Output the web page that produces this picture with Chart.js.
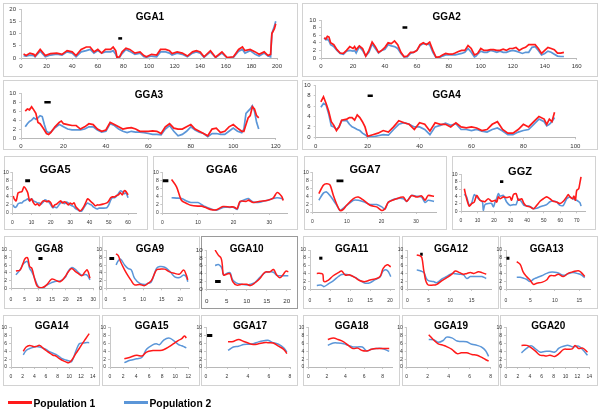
<!DOCTYPE html>
<html><head><meta charset="utf-8">
<script src="https://cdn.jsdelivr.net/npm/chart.js@4.4.1/dist/chart.umd.min.js"></script>
<style>
body{margin:0;width:600px;height:412px;background:#fff;position:relative;overflow:hidden;font-family:"Liberation Sans",Arial,sans-serif}
.box{position:absolute;border:1px solid #d2d2d2;box-sizing:border-box;background:#fff}
canvas{position:absolute}
.title{position:absolute;font-weight:bold;transform:translate(-50%,-50%);white-space:nowrap;color:#000}
.leg{position:absolute;font-weight:bold;font-size:10.3px;color:#000;transform:translateY(-50%);white-space:nowrap}
.legline{position:absolute;height:3px}
</style></head><body>
<script>
// ---------------- DATA ----------------
const gga1X=[2,4,7,10,11,15,19,23,28,32,36,40,43,47,51,54,57,60,63,66,70,72,74,75,77,79,82,85,89,93,96,98,102,106,109,113,116,118,122,126,130,134,137,140,143,148,152,157,161,166,170,173,175,179,183,186,190,193,195,196,198,199];
const gga1Pop1=[1.7,1,2,1.5,0.8,3.5,1,1.8,2,1.5,3,2.5,1,3.5,4.5,4.5,2.5,3.5,2,3.5,3.5,4.5,3,0.3,0.5,2.5,4,3.5,2,2.5,1,0.5,1.5,1.2,3.5,3.5,3,1.8,2.5,2,0.8,2.5,3,2.5,0.5,3,0.3,2.5,0.2,0.5,3.5,4.5,3,3.5,2.5,1.5,2.5,1,1.5,10,12,14];
const gga1Pop2=[1,0.8,1.2,1,0.5,2.8,0.5,1.2,1.6,1.2,2.5,2,0.5,2.5,3,3.5,2,3,2,2.5,2.5,3,1.5,0.2,0.3,1.8,3.5,2.7,1.5,2,0.5,0.3,0.8,0.5,2.5,2.5,2,1.2,2,1.5,0.5,2,2.5,2,0.3,2.5,0.2,2,0.1,0.3,2.8,3.5,2,3,1.5,0.8,2,0.8,0.5,10,13,15];

const gga2X=[2,3,4,5,6,8,10,12,14,16,18,20,21,22,24,26,28,30,32,34,36,38,40,42,44,46,48,50,52,54,56,58,60,62,64,66,68,70,72,74,76,78,80,82,84,86,88,90,92,94,96,97,98,100,102,104,106,108,110,112,114,116,118,120,122,124,126,128,130,132,134,136,138,140,142,144,146,148,150,152];
const gga2Pop1=[5.3,5,5.7,5.5,4,3.5,2.2,1.3,1.2,2,3,2.5,3,2.2,3.2,2.5,0.5,2,4.2,3,1.5,2,2.8,4,3.8,4.5,3.5,1.5,0.3,0.5,1.5,1.5,2,3.5,4,3.5,4.2,2,0.2,0.3,0.8,1.2,1,1,1.3,1.7,2,2,3.3,2.5,0.8,1,1.2,2.5,2,2,2.2,2.2,2,2,2.3,2,2.5,2.5,2.8,2,2.5,2.8,3.5,3.5,3.5,2.5,1.2,2,2.8,2.5,2.2,1.3,1.3,1.5];
const gga2Pop2=[5.3,4.8,5,4.5,3.5,3,2,1.2,1,1.8,2,1.8,2,1.3,3,2,0.5,1.5,3.7,2.5,1.3,2,2.3,3.5,3.2,3,2.5,1.2,0.3,0.3,1.2,1.5,2,3.3,3.8,3.7,3.5,1.5,0.1,0.1,0.5,0.8,0.8,0.8,0.8,1,1.2,1.5,2.5,1.5,0.3,0.5,1,1.8,1.5,1.5,2,1.8,1.5,1.8,1.5,1.5,1.8,2,1.8,1.5,1.2,1.5,1.5,2.8,3,2,0.8,1.2,1.8,1.5,1,0.5,0.4,0.4];

const gga3X=[2,3,4,5,6,7,8,9,10,11,12,13,14,16,18,19,20,22,24,26,28,30,32,34,36,38,40,42,44,46,48,50,52,54,56,58,60,62,64,66,68,70,72,74,76,78,80,82,84,86,88,90,92,94,96,98,100,102,104,105,106,107,108,109,110,111,112];
const gga3Pop1=[6,6.5,6.3,7,6.3,5.5,3.5,3.2,2.5,1.8,1,0.8,1.2,2.5,3.5,3.8,3.2,3,2.8,2.8,2,2.5,3.2,3,2,1.5,1.8,3.5,3,2.5,2,2.2,2.3,2,1.5,1.5,1.5,1.6,1.5,1,2.5,3.2,2.2,2,2,2.5,3,2,1.5,1,0.5,2,2.2,1.2,1.5,2.5,3,2.2,1.5,1.5,3,4.5,5,7,6.5,5,4.5];
const gga3Pop2=[2.5,3.2,3.7,4,4.5,4.2,4.5,5,4.8,3,1.5,1.2,1.3,2.3,3,2.8,2.5,2,1.8,1.8,1.8,2,2.5,2.5,1.8,1.3,1.5,3.2,2.8,2,1.5,1.2,1.5,1.3,1.3,1.2,1,0.8,0.8,0.7,2,2.8,1.5,0.5,0.8,1.5,2.5,1.8,1.3,1,0.3,1,1,0.8,0.8,1.5,2.2,1.5,1.2,2,5.5,6,6.5,7.2,6,3.5,2];

const gga4X=[2,3,4,5,6,7,8,9,10,12,13,14,15,16,17,18,19,20,22,24,26,28,30,32,34,36,38,40,42,44,46,48,50,52,54,56,58,60,62,64,66,68,70,72,74,76,78,80,82,84,86,88,89,90,91,92];
const gga4Pop1=[6.8,7.8,6.5,5,3,2.3,1.3,2,3.3,3.5,3.8,3.8,3.3,4.3,3.8,3,2,0.2,0.5,0.8,1.3,1,2,3.2,2.8,2.5,1.5,2.8,2.5,1.2,2.8,2.5,2.5,2,2.8,2,1.8,2,1.8,1.3,1.5,2.5,3,1.5,0.8,0.8,1.5,2.5,2,3,4,3.5,2.5,3.5,3,4.8];
const gga4Pop2=[5.8,6.5,6.2,4.5,2.2,2,1.5,2,3.2,3.2,2.5,2,1.8,1.5,1.3,0.8,0.5,0.1,0.1,0.3,0.5,0.4,1.5,2.5,2.8,2.5,2,2,1.5,0.5,2,2.3,2.7,2.3,2.6,1.5,1.5,1.3,1.5,1.2,1,1.5,1.8,1.2,0.5,0.5,1,1.3,1.5,2.5,3.5,3,2.2,2.5,3,3.8];

const gga5X=[0.5,1,2,3,4,5,6,7,8,9,10,11,12,13,14,15,16,17,18,19,20,21,22,23,25,26,27,28,29,30,31,32,33,34,35,36,37,38,39,40,41,42,43,44,45,47,49,50,51,52,53,54,55,56,57,58,59,60];
const gga5Pop1=[4.2,3.5,3,5,5.2,5.3,6.5,6,5,3,3.5,2.5,2,2.3,1.8,2.5,3,3,2.8,3,2.5,1.5,2,2.2,3,2.5,2.8,2.5,2,2.5,2.2,2.5,1.5,1,0.5,0.8,1.5,2.5,3.5,3.2,2.7,2.3,1.8,2,2,2.2,2.5,3,3.8,4,4,4.3,4.5,5,4.5,5.5,5.3,4.5];
const gga5Pop2=[2,1.5,1.5,2.3,2.5,2.5,3,3.2,3.5,3,3.5,3,2.8,2.5,2.5,2.2,2.7,3.3,3,2.7,2,1.3,1.5,1.3,2.5,2.7,2.3,2.7,2.5,2,1.8,1.5,1,0.8,0.5,0.5,1.2,2,2.5,2.2,2,1.5,1.2,1,1.2,1.2,1.3,2,3.2,3.8,3.8,4.2,4.8,5.5,5.3,4.8,5,3.8];

const gga6X=[2.6,4,5.4,7,8,10,11,12,13.4,15.2,17,19,20,21,21.8,23.6,24.1,25.5,27.4,29.3,31.1,32.2,33.5,33.9];
const gga6Pop1=[8.3,6.5,3.1,2.3,1.9,1.7,1.7,1.4,0.9,0.8,1.6,1.5,1.5,1.1,2.9,2.9,3.2,2.6,2.9,3.1,3.7,5.1,4.1,3.1];
const gga6Pop2=[3.8,3.7,3.6,2.9,2.6,2.6,2.1,1.6,1.1,0.7,1.4,1.4,1.4,0.9,2.7,3.5,3.6,2.7,2.7,3.1,3.6,3.8,3.6,3.3];

const gga7X=[1.9,3.2,4.1,5.1,6.1,7,8,9,9.9,11.9,13.3,14.8,16.7,18.6,20.1,21,22,24.4,26.3,27.3,28.7,30.2,31.6,32.6,33.5,35.2];
const gga7Pop1=[4.7,6.8,7.2,6.9,4.2,2.1,0.4,0.7,1.7,3.4,3.8,3,1.7,1.3,0.4,0.8,2.5,3.4,3.8,2.7,4.2,3.8,4.1,3,4.2,4];
const gga7Pop2=[3,4.8,5.1,4.2,3,1.8,0.4,1,1.6,3,3,2.6,1.9,1.9,1.3,0.7,2.5,3.4,3.4,2.7,4.2,4,3.8,2.4,3,2.7];

const ggzX=[2,3.4,5,6.5,8,9.5,11.5,13,13.5,14.5,16.5,18.5,19.6,20.6,21.6,22.6,23.6,25.6,27.6,29.6,30.6,31.7,33.3,34.7,36.7,38.1,39.7,41.7,43.8,45.8,47.8,49.8,51.8,53.8,55.8,57.9,59.9,61.9,63.9,64.9,65.9,67.5,68.3,69.2,70,71.2,72,72.6];
const ggzPop1=[6.1,3.4,1.4,2.1,2.5,4.3,3,2.7,2.7,2.6,3.4,2.7,2.8,3,2.5,3.9,3.4,3.9,3.7,3.9,3,4.5,4.8,3,3.4,2.1,1.4,1.2,0.7,1.6,2.7,3.4,3.9,3.4,2.7,2.5,2.1,2.7,3.9,4.5,3.9,3.4,4.1,3,5.7,6.1,7.9,9.3];
const ggzPop2=[4.6,3.9,1.6,2.3,4.5,3.9,3,2.5,0.3,1.8,2.1,2.1,1.2,2.5,3.5,4.8,4.1,4.3,2.5,1.6,1.7,1.8,1.8,3.4,2.5,1.6,1.5,1.3,0.7,0.8,1.2,1.5,1.8,2.6,2.8,2.5,1.6,1.6,3.4,3.7,3.9,3.4,3.3,3.1,3,2.6,2.3,1.4];

const gga8X=[1.8,3.3,4.4,5.1,6,6.8,7.6,8.7,9.6,10.5,11.5,13,14.8,16,17.9,19.7,20.9,22.1,23.3,24.5,25.8,27,27.8,28.8];
const gga8Pop1=[4.5,4.8,6.5,7.7,8,5.7,5.2,2.2,0.5,0.2,0.2,0.9,2.4,2.2,1.7,3,4.3,5.2,4.5,3.9,3.3,4.3,4.8,2.6];
const gga8Pop2=[3.5,4.8,6.3,6.8,7,5.2,4.3,2.5,0.9,0,0,0.8,1.5,1.8,1.9,2.8,4.5,5.4,5,4.2,3.4,3.6,3.4,2.2];

const gga9X=[2.7,3.3,3.9,5,5.9,6.8,7.7,9.1,10.4,11.3,12.2,13.6,14.5,15.8,17.1,18.5,19.8,20.9,21.6,22];
const gga9Pop1=[9,8.5,7,4.8,3.3,2,0.9,1,0.7,1.3,2,4.8,5,5,4.3,3.9,3.7,4.8,3.5,2.2];
const gga9Pop2=[6.1,7.2,7.6,6.1,5.2,4.8,2.6,1.3,1,1.3,1.7,5.2,5.7,5.5,4.5,3,2.8,3.5,3,1.7];

const gga10X=[2.1,2.9,3.6,3.9,4.2,5,5.8,6.5,7.5,8.8,10,11,12.1,13.3,14.6,15.8,16.7,17.5,18.3,19.2,19.8,20.4];
const gga10Pop1=[10,8.7,7.9,6.2,3.6,3.8,3.9,1.9,1,1.2,1.2,0.9,1.6,2.7,4.3,4.4,5,3.6,2.9,3.8,4.6,4.4];
const gga10Pop2=[6,6.3,5.7,5,3.6,4,4.2,2.3,1.5,1.2,1,1.2,1.7,3,4.2,4.4,4.3,3.5,3.4,3.4,3.4,3.4];

const gga11X=[1.7,2.7,3.2,3.5,4.6,5.8,7.1,7.9,8.8,10,11.3,12.5,13.8,15,16.3,17.5,18.3,19.3,20.2];
const gga11Pop1=[4,4,3.8,1.9,2.3,3.4,4.2,4.6,3.6,3.6,2.9,2.1,1.9,2.3,2.6,3.2,5.3,6.2,5.7];
const gga11Pop2=[0.9,1,0.8,0.6,1.3,2.1,3.2,3.7,3.8,3.5,3,2.2,1.5,1.6,2.4,3.1,4.6,4.8,3.2];

const gga12X=[2.2,3,3.4,3.9,4.7,6.1,6.9,8,9.2,10.4,11.2,12.2,13.1,13.9,14.7,15.5,16.6,17.4,18.4];
const gga12Pop1=[8.7,8.5,8,4.4,1.2,1,1.2,2.1,2.9,3.8,4.6,4.2,3.8,4,4.2,4,4.4,4.2,3.8];
const gga12Pop2=[4.9,4.7,4.5,4.2,2.3,1.9,1.6,2.5,3.2,4,3.9,3.8,3.6,2.7,3.2,3.2,3.2,3.2,2.7];

const gga13X=[2.2,2.9,3.5,4.2,4.9,5.6,6.3,7.3,8.3,9,10,10.7,11.7,12.7,13.7,14.8,15.4,16.1];
const gga13Pop1=[7,6.3,4.4,3.2,2.3,1.2,1.5,1.7,2.3,3.4,3.4,3.8,3.2,4,4.4,4.7,4.2,3.2];
const gga13Pop2=[3,3,2.8,2.5,1.9,2.5,2.9,3.4,4,4.3,4.3,4.1,3.5,3.9,4.2,3.9,3.6,2.9];

const gga14X=[2.1,2.6,3.2,3.8,4.3,4.9,5.5,6,6.6,7.2,7.7,8.3,8.8,9.4,9.9,10.4,11.1,11.7,12.2,12.8,13.4];
const gga14Pop1=[4,5.1,5.5,5.2,5.2,5.5,4.8,4.2,3.6,3,2.8,2.1,1.7,1.3,1.1,1.7,3.4,4.7,5.9,7.2,8.5];
const gga14Pop2=[3.1,4.2,4.7,5,5.2,5.1,4.8,4.5,3.9,3.5,3.2,2.6,2.1,1.8,1.6,1.4,4,5.9,6.1,6.2,6.2];

const gga15X=[2.2,3.1,4.1,4.9,5.6,6.6,7.1,7.6,8.2,9,9.7,10.5,11,11.4,11.7];
const gga15Pop1=[2.1,2.5,3,2.8,3.8,4.2,4.2,4.2,4.4,5.1,5.9,6.8,7.2,7.9,7.4];
const gga15Pop2=[1.1,1.7,2.1,2.5,4.5,5.7,5.9,5.7,6.8,7.4,6.8,5.7,5.4,5.1,4.9];

const gga17X=[2.1,2.6,3.1,3.6,4,4.5,5,5.5,5.9,6.4,6.9,7.4,7.7];
const gga17Pop1=[6.4,6.5,7,6.5,6.1,5.7,5.9,6.2,6.2,6.1,5.3,4.5,3.4];
const gga17Pop2=[4.2,5.1,5.3,5.7,5.8,5.9,6.4,6.7,6.8,6.2,5.8,4.9,3.8];

const gga18X=[2.1,2.7,3.2,3.8,4.3,4.8,5.3,5.8,6.3,6.8,7.3,7.9,8.7];
const gga18Pop1=[7,7.4,7,6.4,5.5,4.7,4.8,4.2,4.1,4.5,4.7,4.7,4.7];
const gga18Pop2=[5.5,6.1,6.1,5.9,5.5,5.1,5.1,5.1,4.1,4.5,4.7,4.7,4];

const gga19X=[2.1,2.6,3,3.5,3.8,4.3,4.8,5.2,5.7,6.2,6.7,7.1,7.5,7.8];
const gga19Pop1=[8.2,6.8,5.9,5.5,5.2,4.5,3.4,3.6,3.6,3.2,3,2.5,1.9,1.5];
const gga19Pop2=[7,6.9,6.3,6.8,7.6,7.4,6.6,6.5,6.4,5.8,5.5,5.1,4.2,2.7];

const gga20X=[2.6,3.5,4.2,4.9,5.7,6.3,6.8,7.4,8.2,8.9,9.7,10.5,11.2,11.6,12.2,12.9,13.7];
const gga20Pop1=[5.5,5.5,4.9,4.1,3,2.9,2.8,3,2.7,3.4,4.5,4.5,4.7,5.5,4.7,4.8,3.8];
const gga20Pop2=[3.6,4.8,5.4,4.7,3.8,3.9,4,4,3.8,4.8,5.3,5.5,5.1,5.2,5.3,4.4,3];

// marker bars: [start, end, level]
const gga1Marker=[76,79,8], gga2Marker=[51,54,8], gga3Marker=[11,14,8], gga4Marker=[20,22,8];
const gga5Marker=[6.7,9.2,8], gga6Marker=[0.1,1.7,8], gga7Marker=[7,9,7.9], ggzMarker=[23.6,25.6,8];
const gga8Marker=[10,11.5,7.8], gga9Marker=[0.9,2.2,7.8], gga10Marker=[2.1,3.5,1.9];
const gga11Marker=[2.3,3.1,7.9], gga12Marker=[3,3.6,8.9], gga13Marker=[0.1,0.7,7.9], gga17Marker=[0.1,0.6,8];

const seriesNames=['Population 1','Population 2'];

// ---------------- LAYOUT ----------------
const styles={
  big:{font:6,yPad:3,xPad:3.1,lw:1.7,tension:0,mw:2.5},
  mid:{font:5,yPad:1.5,xPad:4.7,lw:1.6,tension:0.25,mw:2.8},
  r4:{font:5,yPad:2,xPad:6.7,lw:1.5,tension:0.4,mw:3},
  r5:{font:5,yPad:2,xPad:5,lw:1.5,tension:0.4,mw:3}
};
const panels=[
 {t:'GGA1',x:gga1X,a:gga1Pop1,b:gga1Pop2,m:gga1Marker,box:[3,3,298,77],plot:[21,9,277,58],xMax:200,xStep:20,yMax:20,yStep:5,tp:[150,16],ts:10,s:'big'},
 {t:'GGA2',x:gga2X,a:gga2Pop1,b:gga2Pop2,m:gga2Marker,box:[302,3,598,77],plot:[321,20,576.7,58],xMax:160,xStep:20,yMax:10,yStep:2,tp:[446.7,15.7],ts:10,s:'big'},
 {t:'GGA3',x:gga3X,a:gga3Pop1,b:gga3Pop2,m:gga3Marker,box:[3,80,298,150],plot:[21,93.3,275.7,138],xMax:120,xStep:20,yMax:10,yStep:2,tp:[149,93.7],ts:10,s:'big'},
 {t:'GGA4',x:gga4X,a:gga4Pop1,b:gga4Pop2,m:gga4Marker,box:[302,80,598,150],plot:[315.7,85.3,575.3,137.3],xMax:100,xStep:20,yMax:10,yStep:2,tp:[446.7,93.7],ts:10,s:'big'},
 {t:'GGA5',x:gga5X,a:gga5Pop1,b:gga5Pop2,m:gga5Marker,box:[4,156,148,229.5],plot:[12.3,172.7,136.7,213],xMax:64.5,xStep:10,yMax:10,yStep:2,tp:[55,169.3],ts:11,s:'mid'},
 {t:'GGA6',x:gga6X,a:gga6Pop1,b:gga6Pop2,m:gga6Marker,box:[153,156,297.5,229.5],plot:[162.3,172.7,287.1,213],xMax:35,xStep:10,yMax:10,yStep:2,tp:[221.7,169.3],ts:11,s:'mid'},
 {t:'GGA7',x:gga7X,a:gga7Pop1,b:gga7Pop2,m:gga7Marker,box:[304,156,447,229.5],plot:[312.3,172.7,436.8,212],xMax:36,xStep:10,yMax:10,yStep:2,tp:[365,169.3],ts:11,s:'mid'},
 {t:'GGZ',x:ggzX,a:ggzPop1,b:ggzPop2,m:ggzMarker,box:[452,156,596,229.5],plot:[461,174.3,585,211.3],xMax:75,xStep:10,yMax:10,yStep:2,tp:[520,171],ts:11,s:'mid'},
 {t:'GGA8',x:gga8X,a:gga8Pop1,b:gga8Pop2,m:gga8Marker,box:[4,236,99.5,309],plot:[11,250,93.3,288.3],xMax:30,xStep:5,yMax:10,yStep:2,tp:[49,248.3],ts:10,s:'r4'},
 {t:'GGA9',x:gga9X,a:gga9Pop1,b:gga9Pop2,m:gga9Marker,box:[102,236,199.5,309],plot:[106,250,189.6,288.3],xMax:22.5,xStep:5,yMax:10,yStep:2,tp:[150,248.3],ts:10,s:'r4'},
 {t:'GGA10',x:gga10X,a:gga10Pop1,b:gga10Pop2,m:gga10Marker,box:[201,236,298,309],plot:[206.7,250,290.7,289],xMax:21,xStep:5,yMax:10,yStep:2,tp:[246.7,248.3],ts:10,s:'r4',dark:true},
 {t:'GGA11',x:gga11X,a:gga11Pop1,b:gga11Pop2,m:gga11Marker,box:[303,236,399.5,309],plot:[310,250,394,289],xMax:21,xStep:5,yMax:10,yStep:2,tp:[351.7,248.3],ts:10,s:'r4'},
 {t:'GGA12',x:gga12X,a:gga12Pop1,b:gga12Pop2,m:gga12Marker,box:[402,236,498.5,309],plot:[407.3,250,491.8,289],xMax:19.7,xStep:5,yMax:10,yStep:2,tp:[451,248.3],ts:10,s:'r4'},
 {t:'GGA13',x:gga13X,a:gga13Pop1,b:gga13Pop2,m:gga13Marker,box:[500,236,598,309],plot:[506,250,590.6,289],xMax:17.3,xStep:5,yMax:10,yStep:2,tp:[546.7,248.3],ts:10,s:'r4'},
 {t:'GGA14',x:gga14X,a:gga14Pop1,b:gga14Pop2,m:null,box:[3,315,99.5,386],plot:[11,327.7,92.7,367],xMax:14,xStep:2,yMax:10,yStep:2,tp:[51.7,325.3],ts:10,s:'r5'},
 {t:'GGA15',x:gga15X,a:gga15Pop1,b:gga15Pop2,m:null,box:[102,315,199.5,386],plot:[110,327.7,188.3,367],xMax:12,xStep:2,yMax:10,yStep:2,tp:[151.7,325.3],ts:10,s:'r5'},
 {t:'GGA17',x:gga17X,a:gga17Pop1,b:gga17Pop2,m:gga17Marker,box:[201,315,298,386],plot:[206,327.7,290,367],xMax:8,xStep:2,yMax:10,yStep:2,tp:[250,325.3],ts:10,s:'r5'},
 {t:'GGA18',x:gga18X,a:gga18Pop1,b:gga18Pop2,m:null,box:[303,315,399.5,386],plot:[308.3,327.7,392,367],xMax:9,xStep:2,yMax:10,yStep:2,tp:[351.7,325.3],ts:10,s:'r5'},
 {t:'GGA19',x:gga19X,a:gga19Pop1,b:gga19Pop2,m:null,box:[402,315,499,386],plot:[406.7,327.7,490.7,367],xMax:8,xStep:2,yMax:10,yStep:2,tp:[451,325.3],ts:10,s:'r5'},
 {t:'GGA20',x:gga20X,a:gga20Pop1,b:gga20Pop2,m:null,box:[500,315,598,386],plot:[506,327.7,589.3,367],xMax:14,xStep:2,yMax:10,yStep:2,tp:[548.3,325.3],ts:10,s:'r5'}
];

const RED='#ff1a1a', BLUE='#5b96d8', M=14, YW=12, XH=16;
function el(tag,cls,css){const e=document.createElement(tag);if(cls)e.className=cls;Object.assign(e.style,css);document.body.appendChild(e);return e;}

panels.forEach(p=>{
  const st=styles[p.s];
  const [bl,bt,br,bb]=p.box;
  const bx=el('div','box',{left:bl+'px',top:bt+'px',width:(br-bl)+'px',height:(bb-bt)+'px'});
  if(p.dark){bx.style.border='1.5px solid #9a9a9a';}
  const cl=bl-M, ct=bt-M, cw=Math.round(br-bl+2*M), ch=Math.round(bb-bt+2*M);
  const cv=el('canvas',null,{left:cl+'px',top:ct+'px',width:cw+'px',height:ch+'px'});
  cv.width=cw; cv.height=ch;
  const ds=[
    {label:seriesNames[0],data:p.x.map((x,i)=>({x:x,y:p.a[i]})),borderColor:RED,borderWidth:st.lw,pointRadius:0,tension:st.tension,fill:false},
    {label:seriesNames[1],data:p.x.map((x,i)=>({x:x,y:p.b[i]})),borderColor:BLUE,borderWidth:st.lw,pointRadius:0,tension:st.tension,fill:false}
  ];
  if(p.m){ds.push({label:'marker',data:[{x:p.m[0],y:p.m[2]},{x:p.m[1],y:p.m[2]}],borderColor:'#000',borderWidth:st.mw,borderCapStyle:'butt',pointRadius:0,fill:false});}
  const fs=(p.t==='GGA10')?6.2:st.font;
  new Chart(cv,{type:'line',data:{datasets:ds},options:{
    responsive:false,animation:false,devicePixelRatio:1,
    layout:{padding:{left:p.plot[0]-cl-YW,top:p.plot[1]-ct,right:cl+cw-p.plot[2],bottom:ct+ch-p.plot[3]-XH}},
    plugins:{legend:{display:false},tooltip:{enabled:false}},
    scales:{
      x:{type:'linear',min:0,max:p.xMax,
        afterFit:s=>{s.height=XH;},
        border:{display:true,color:'#b8b8b8',width:1},
        grid:{display:true,drawOnChartArea:false,drawTicks:true,tickLength:2,tickColor:'#c8c8c8'},
        ticks:{stepSize:p.xStep,includeBounds:false,autoSkip:false,maxRotation:0,padding:st.xPad,color:'#333',font:{family:'Liberation Sans, Arial',size:fs}}},
      y:{type:'linear',min:0,max:p.yMax,
        afterFit:s=>{s.width=YW;},
        border:{display:true,color:'#c8c8c8',width:1},
        grid:{display:true,drawOnChartArea:false,drawTicks:true,tickLength:2,tickColor:'#c8c8c8'},
        ticks:{stepSize:p.yStep,autoSkip:false,padding:st.yPad,color:'#333',font:{family:'Liberation Sans, Arial',size:fs}}}
    }}});
  const t=el('div','title',{left:p.tp[0]+'px',top:p.tp[1]+'px',fontSize:p.ts+'px'});
  t.textContent=p.t;
});

// legend
el('div','legline',{left:'8px',top:'401px',width:'24px',background:RED});
el('div','leg',{left:'33.5px',top:'402.5px'}).textContent=seriesNames[0];
el('div','legline',{left:'124px',top:'401px',width:'24px',background:BLUE});
el('div','leg',{left:'149.5px',top:'402.5px'}).textContent=seriesNames[1];
</script>
</body></html>
